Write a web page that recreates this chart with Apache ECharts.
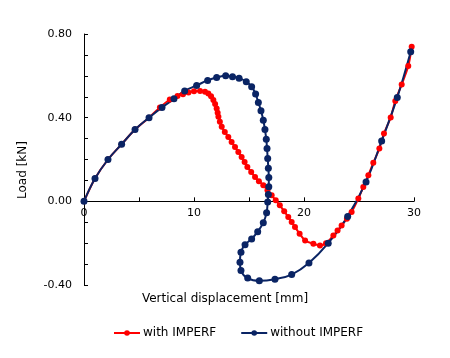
<!DOCTYPE html>
<html>
<head>
<meta charset="utf-8">
<script src="https://cdn.jsdelivr.net/npm/echarts@6/dist/echarts.min.js"></script>
<style>
html,body{margin:0;padding:0;background:#fff;}
#chart{width:450px;height:358px;}
</style>
</head>
<body>
<div id="chart"></div>
<script>
var seriesNames = ['with IMPERF', 'without IMPERF'];
var xAxisTitle = 'Vertical displacement [mm]';
var yAxisTitle = 'Load [kN]';
var xTickLabels = [0, 10, 20, 30];
var yTickLabels = [-0.40, 0.00, 0.40, 0.80];

var withImperf = [
  [0,0],[1.0,0.109],[2.18,0.20],[3.42,0.273],[4.64,0.343],[5.91,0.40],[6.9,0.449],[7.8,0.487],
  [8.5,0.503],[9.0,0.512],[9.5,0.52],[10.0,0.526],[10.55,0.528],[11.0,0.524],[11.3,0.516],
  [11.55,0.502],[11.76,0.484],[11.92,0.465],[12.06,0.444],[12.15,0.424],[12.22,0.404],
  [12.35,0.38],[12.52,0.356],[12.8,0.332],[13.12,0.308],[13.42,0.284],[13.73,0.26],
  [14.03,0.236],[14.33,0.212],[14.6,0.188],[14.85,0.164],[15.2,0.14],[15.55,0.116],
  [15.9,0.096],[16.3,0.077],[16.68,0.053],[17.06,0.029],[17.43,0.005],[17.8,-0.019],
  [18.2,-0.047],[18.57,-0.075],[18.88,-0.099],[19.18,-0.123],[19.6,-0.155],[20.1,-0.187],
  [20.85,-0.203],[21.45,-0.211],[22.0,-0.2],[22.67,-0.163],[23.05,-0.14],[23.42,-0.115],
  [23.9,-0.083],[24.33,-0.051],[24.94,0.013],[25.39,0.069],[25.85,0.125],[26.3,0.184],
  [26.85,0.252],[27.27,0.324],[27.88,0.401],[28.3,0.48],[28.88,0.559],[29.48,0.647],[29.79,0.739]
];
var withoutImperf = [
  [0,0],[1.0,0.109],[2.18,0.20],[3.42,0.273],[4.64,0.343],[5.91,0.40],[7.09,0.449],[8.18,0.49],
  [9.15,0.528],[10.24,0.554],[11.24,0.578],[12.06,0.592],[12.88,0.60],[13.5,0.596],[14.1,0.589],
  [14.75,0.572],[15.24,0.548],[15.6,0.513],[15.85,0.473],[16.09,0.433],[16.3,0.388],[16.45,0.343],
  [16.57,0.297],[16.64,0.252],[16.7,0.205],[16.76,0.158],[16.8,0.114],[16.8,0.07],[16.76,0.033],
  [16.7,-0.003],[16.6,-0.054],[16.3,-0.102],[15.79,-0.145],[15.24,-0.18],[14.64,-0.207],
  [14.27,-0.243],[14.18,-0.291],[14.27,-0.331],[14.88,-0.367],[15.94,-0.38],[17.36,-0.372],
  [18.88,-0.35],[20.45,-0.295],[22.2,-0.2],[23.97,-0.072],[25.64,0.093],[27.06,0.289],
  [28.48,0.497],[29.7,0.715]
];

var chart = echarts.init(document.getElementById('chart'), null, {renderer:'canvas'});
var FONT = 'DejaVu Sans';
chart.setOption({
  animation: false,
  backgroundColor: '#fff',
  grid: {left: 84, right: 36, top: 34, bottom: 73},
  xAxis: {
    type: 'value', min: 0, max: 30, interval: 5,
    axisLine: {show: true, onZero: true, lineStyle: {color: '#000', width: 1}},
    axisTick: {show: true, inside: true, length: 4, lineStyle: {color: '#000', width: 1}},
    splitLine: {show: false},
    axisLabel: {show: false}
  },
  yAxis: {
    type: 'value', min: -0.4, max: 0.8, interval: 0.1,
    axisLine: {show: true, lineStyle: {color: '#000', width: 1}},
    axisTick: {show: true, inside: true, length: 4, lineStyle: {color: '#000', width: 1}},
    splitLine: {show: false},
    axisLabel: {
      color: '#000', fontFamily: FONT, fontSize: 11, margin: 12,
      formatter: function (v) {
        for (var i = 0; i < yTickLabels.length; i++) {
          if (Math.abs(v - yTickLabels[i]) < 1e-6) return yTickLabels[i].toFixed(2);
        }
        return '';
      }
    }
  },
  legend: {
    bottom: 14, left: 108,
    itemWidth: 26, itemHeight: 7, itemGap: 24,
    textStyle: {color: '#000', fontFamily: FONT, fontSize: 12, padding: [0,0,0,-2]},
    data: seriesNames
  },
  series: [
    {
      name: seriesNames[0], type: 'line', data: withImperf, smooth: 0.3,
      symbol: 'circle', symbolSize: 6,
      itemStyle: {color: '#ff0000'},
      lineStyle: {color: '#ff0000', width: 2}
    },
    {
      name: seriesNames[1], type: 'line', data: withoutImperf, smooth: 0.4,
      symbol: 'circle', symbolSize: 7,
      itemStyle: {color: '#0a2464'},
      lineStyle: {color: '#0a2464', width: 2}
    }
  ]
});

var els = [
  {type: 'text', left: 'center', top: 293, style: {text: xAxisTitle, fill: '#000', font: '12px "DejaVu Sans"'}},
  {type: 'text', x: 23, y: 170, rotation: Math.PI / 2,
    style: {text: yAxisTitle, fill: '#000', font: '12px "DejaVu Sans"', align: 'center', verticalAlign: 'middle'}}
];
xTickLabels.forEach(function (v) {
  var p = chart.convertToPixel({xAxisIndex: 0, yAxisIndex: 0}, [v, 0]);
  els.push({
    type: 'text', x: p[0], y: p[1] + 6, z: 10,
    style: {text: String(v), fill: '#000', font: '11px "DejaVu Sans"', align: 'center', verticalAlign: 'top'}
  });
});
chart.setOption({graphic: els});
</script>
</body>
</html>
